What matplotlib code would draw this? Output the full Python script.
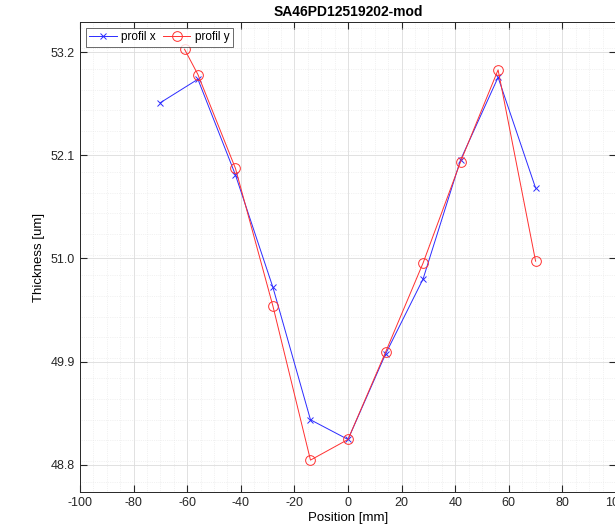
import numpy as np
import matplotlib
matplotlib.use('Agg')
import matplotlib.pyplot as plt
from matplotlib.ticker import MultipleLocator

plt.rcParams['font.family'] = ['Liberation Sans', 'DejaVu Sans']
plt.rcParams['axes.unicode_minus'] = False

# profile data (position in mm, thickness in um)
pos_x = [-70, -56, -42, -28, -14, 0, 14, 28, 42, 56, 70]
thick_x = [52.66, 52.91, 51.89, 50.69, 49.28, 49.07, 49.98, 50.78, 52.05, 52.93, 51.75]

pos_y = [-61, -56, -42, -28, -14, 0, 14, 28, 42, 56, 70]
thick_y = [53.23, 52.96, 51.96, 50.49, 48.85, 49.07, 50.00, 50.95, 52.03, 53.01, 50.97]

yticks = [48.8, 49.9, 51.0, 52.1, 53.2]
xticks = list(range(-100, 101, 20))

fig = plt.figure(figsize=(6.15, 5.28), dpi=100)
ax = fig.add_axes([80/615, 36/528, 536/615, 470/528])

ax.plot(pos_x, thick_x, color='#2b2bff', marker='x', lw=0.7, ms=5, mew=0.7, label='profil x')
ax.plot(pos_y, thick_y, color='#ff3030', marker='o', mfc='none', lw=0.7, ms=7, mew=0.7, label='profil y')

ax.set_xlim(-100, 100)
ax.set_ylim(48.51, 53.52)
ax.set_xticks(xticks)
ax.set_yticks(yticks)
ax.set_yticklabels([f"{v:.1f}" for v in yticks])
ax.xaxis.set_minor_locator(MultipleLocator(5))
ax.yaxis.set_minor_locator(MultipleLocator(0.22))

ax.grid(which='major', color='#dcdcdc', lw=0.6)
ax.grid(which='minor', color='#e6e6e6', lw=0.5, ls=':')
ax.set_axisbelow(True)

ax.tick_params(which='both', direction='in', top=True, right=True, colors='#262626', labelsize=9)
ax.tick_params(which='major', length=5)
ax.tick_params(which='minor', length=0)
for s in ax.spines.values():
    s.set_color('#262626')
    s.set_linewidth(0.7)

ax.set_title('SA46PD12519202-mod', fontsize=10, fontweight='bold', pad=4)
ax.set_xlabel('Position [mm]', fontsize=9.5, labelpad=2)
ax.set_ylabel('Thickness [um]', fontsize=9.5)

leg = ax.legend(loc='upper left', ncol=2, fontsize=8.5, frameon=True, fancybox=False,
                edgecolor='#262626', borderaxespad=0.5, handlelength=2.3, columnspacing=0.6,
                handletextpad=0.4, borderpad=0.3)
leg.get_frame().set_linewidth(0.6)

fig.savefig('out.png', dpi=100)
